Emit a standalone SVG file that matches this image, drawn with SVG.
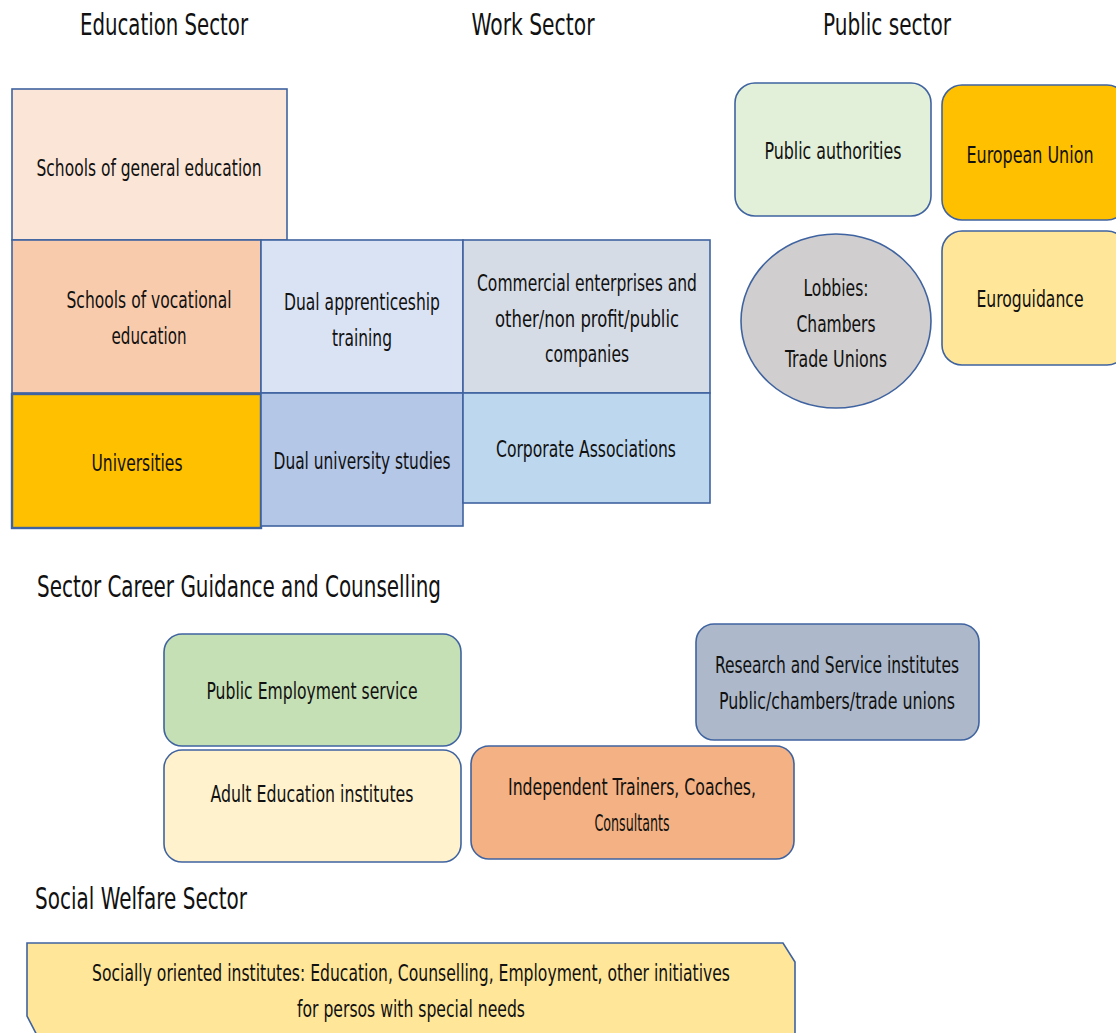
<svg xmlns="http://www.w3.org/2000/svg" width="1116" height="1033" viewBox="0 0 1116 1033">
<style>
.t{font-family:"DejaVu Sans Condensed","Liberation Sans Narrow","Liberation Sans",sans-serif;font-size:23.5px;fill:#111;text-anchor:middle}
.h{font-family:"DejaVu Sans Condensed","Liberation Sans Narrow","Liberation Sans",sans-serif;font-size:30px;fill:#111;text-anchor:middle}
.b{stroke:#3F63A0;stroke-width:1.6}
</style>
<rect width="1116" height="1033" fill="#fff"/>
<g id="titles">
<text class="h" x="164" y="35" textLength="168" lengthAdjust="spacingAndGlyphs">Education Sector</text>
<text class="h" x="533" y="35" textLength="123" lengthAdjust="spacingAndGlyphs">Work Sector</text>
<text class="h" x="887" y="35" textLength="128" lengthAdjust="spacingAndGlyphs">Public sector</text>
<text class="h" x="239" y="597" textLength="404" lengthAdjust="spacingAndGlyphs">Sector Career Guidance and Counselling</text>
<text class="h" x="141" y="909" textLength="212" lengthAdjust="spacingAndGlyphs">Social Welfare Sector</text>
</g>
<g id="n-general">
<rect class="b" x="12" y="89" width="275" height="151" fill="#FBE5D6"/>
<text class="t" x="149" y="176" textLength="225" lengthAdjust="spacingAndGlyphs">Schools of general education</text>
</g>
<g id="n-vocational">
<rect class="b" x="12" y="240" width="249" height="153" fill="#F8CBAD"/>
<text class="t" x="149" y="308" textLength="165" lengthAdjust="spacingAndGlyphs">Schools of vocational</text>
<text class="t" x="149" y="344" textLength="75" lengthAdjust="spacingAndGlyphs">education</text>
</g>
<g id="n-dualapp">
<rect class="b" x="261" y="240" width="202" height="153" fill="#DAE3F3"/>
<text class="t" x="362" y="310" textLength="156" lengthAdjust="spacingAndGlyphs">Dual apprenticeship</text>
<text class="t" x="362" y="346" textLength="60" lengthAdjust="spacingAndGlyphs">training</text>
</g>
<g id="n-commercial">
<rect class="b" x="463" y="240" width="247" height="153" fill="#D6DCE5"/>
<text class="t" x="587" y="291" textLength="220" lengthAdjust="spacingAndGlyphs">Commercial enterprises and</text>
<text class="t" x="587" y="327" textLength="184" lengthAdjust="spacingAndGlyphs">other/non profit/public</text>
<text class="t" x="587" y="362" textLength="84" lengthAdjust="spacingAndGlyphs">companies</text>
</g>
<g id="n-universities">
<rect x="12" y="394" width="249" height="134" fill="#FFC000" stroke="#3F63A0" stroke-width="2.4"/>
<text class="t" x="137" y="471" textLength="91" lengthAdjust="spacingAndGlyphs">Universities</text>
</g>
<g id="n-dualuni">
<rect class="b" x="261" y="393" width="202" height="133" fill="#B4C7E7"/>
<text class="t" x="362" y="469" textLength="177" lengthAdjust="spacingAndGlyphs">Dual university studies</text>
</g>
<g id="n-corporate">
<rect class="b" x="463" y="393" width="247" height="110" fill="#BDD7EE"/>
<text class="t" x="586" y="457" textLength="180" lengthAdjust="spacingAndGlyphs">Corporate Associations</text>
</g>
<g id="n-publicauth">
<rect class="b" x="735" y="83" width="196" height="133" rx="20" fill="#E2F0D9"/>
<text class="t" x="833" y="159" textLength="137" lengthAdjust="spacingAndGlyphs">Public authorities</text>
</g>
<g id="n-eu">
<rect class="b" x="942" y="85" width="185" height="135" rx="20" fill="#FFC000"/>
<text class="t" x="1030" y="163" textLength="127" lengthAdjust="spacingAndGlyphs">European Union</text>
</g>
<g id="n-euroguidance">
<rect class="b" x="942" y="231" width="185" height="134" rx="20" fill="#FFE699"/>
<text class="t" x="1030" y="307" textLength="107" lengthAdjust="spacingAndGlyphs">Euroguidance</text>
</g>
<g id="n-lobbies">
<ellipse class="b" cx="836" cy="321" rx="95" ry="87" fill="#D0CECE"/>
<text class="t" x="836" y="296" textLength="65" lengthAdjust="spacingAndGlyphs">Lobbies:</text>
<text class="t" x="836" y="332" textLength="79" lengthAdjust="spacingAndGlyphs">Chambers</text>
<text class="t" x="836" y="367" textLength="102" lengthAdjust="spacingAndGlyphs">Trade Unions</text>
</g>
<g id="n-pes">
<rect class="b" x="164" y="634" width="297" height="112" rx="18" fill="#C5E0B4"/>
<text class="t" x="312" y="699" textLength="211" lengthAdjust="spacingAndGlyphs">Public Employment service</text>
</g>
<g id="n-adult">
<rect class="b" x="164" y="750" width="297" height="112" rx="18" fill="#FFF2CC"/>
<text class="t" x="312" y="802" textLength="203" lengthAdjust="spacingAndGlyphs">Adult Education institutes</text>
</g>
<g id="n-independent">
<rect class="b" x="471" y="746" width="323" height="113" rx="18" fill="#F4B183"/>
<text class="t" x="632" y="795" textLength="248" lengthAdjust="spacingAndGlyphs">Independent Trainers, Coaches,</text>
<text class="t" x="632" y="831" textLength="75" lengthAdjust="spacingAndGlyphs">Consultants</text>
</g>
<g id="n-research">
<rect class="b" x="696" y="624" width="283" height="116" rx="18" fill="#ADB9CA"/>
<text class="t" x="837" y="673" textLength="244" lengthAdjust="spacingAndGlyphs">Research and Service institutes</text>
<text class="t" x="837" y="709" textLength="236" lengthAdjust="spacingAndGlyphs">Public/chambers/trade unions</text>
</g>
<g id="n-social">
<path class="b" d="M27,943 H783 L795,962 V1045 H42 L27,1016 Z" fill="#FFE699"/>
<text class="t" x="411" y="981" textLength="638" lengthAdjust="spacingAndGlyphs">Socially oriented institutes: Education, Counselling, Employment, other initiatives</text>
<text class="t" x="411" y="1017" textLength="228" lengthAdjust="spacingAndGlyphs">for persos with special needs</text>
</g>
<g id="connectors"></g>
</svg>
